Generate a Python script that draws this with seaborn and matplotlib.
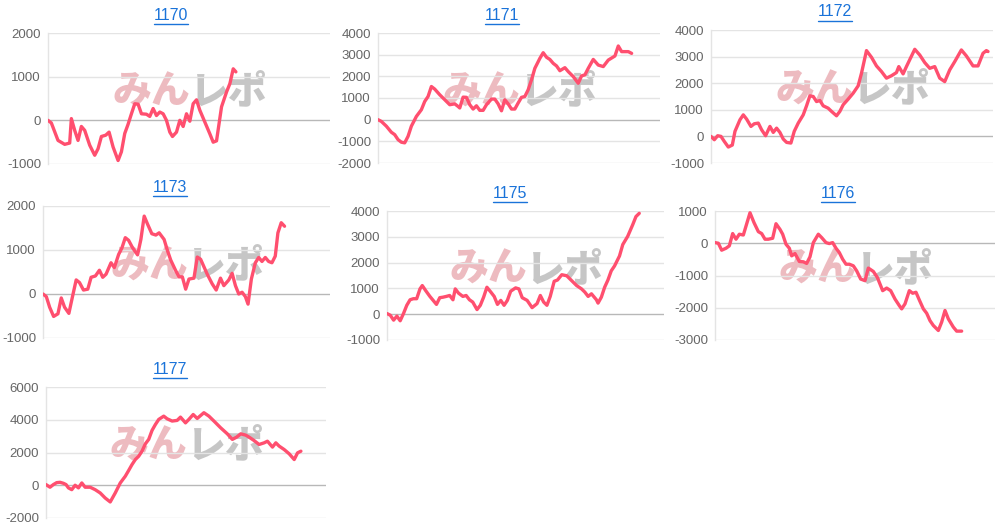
import matplotlib
matplotlib.use("Agg")
import matplotlib.pyplot as plt
from matplotlib.lines import Line2D
import seaborn as sns
import pandas as pd

# ---- data (x = progress of the day, y = difference in medals) ----
x_1170 = [0, 1, 3, 5, 6.5, 7, 8, 9, 10, 11,
          12.5, 14, 15, 16, 17.3, 18.3, 19.5, 21, 22, 23,
          24, 25, 26, 27, 28, 29.5, 30.5, 31.5, 32.5, 33.5,
          34.5, 35.5, 36.5, 37.3, 38.5, 39.5, 40.5, 41.5, 42.5, 43.5,
          44.5, 45.5, 47, 48.5, 49.5, 50.5, 52, 53.5, 54.5, 55.5,
          56.3]
y_1170 = [0, -60, -460, -550, -520, 40, -230, -460, -140, -230,
          -570, -800, -650, -370, -340, -270, -610, -920, -720, -300,
          -90, 150, 380, 370, 150, 140, 90, 270, 110, 190,
          150, 0, -270, -370, -270, 0, -140, 150, -20, 380,
          470, 230, -40, -310, -500, -470, 310, 650, 840, 1180,
          1110]

x_1171 = [0, 1, 2.5, 4, 5, 6, 7, 8, 9, 10,
          11.5, 13, 14, 15, 16, 17, 18.5, 20, 21.5, 23,
          24, 24.5, 25.5, 26.5, 27.5, 28.5, 29.5, 30.5, 31.5, 32.5,
          34, 35, 36, 37, 38, 39, 40, 41, 42, 43,
          44, 45, 46, 47, 48.5, 49.5, 50.5, 51.5, 52.5, 53.5,
          54.5, 56, 57, 58.5, 60, 61, 62, 63, 64.5, 66,
          67.5, 69, 71, 72, 73, 74, 75, 76]
y_1171 = [0, -80, -300, -580, -690, -920, -1040, -1070, -770, -300,
          150, 460, 840, 1070, 1530, 1410, 1150, 920, 690, 730,
          610, 540, 1040, 1030, 690, 490, 640, 430, 430, 690,
          950, 950, 730, 410, 920, 730, 490, 490, 770, 1030,
          1070, 1380, 1840, 2370, 2830, 3090, 2880, 2780, 2600, 2480,
          2260, 2400, 2220, 1990, 1680, 2020, 2070, 2370, 2780, 2520,
          2450, 2750, 2940, 3400, 3140, 3140, 3140, 3060]

x_1172 = [0, 1, 2, 3, 4, 5.2, 6.4, 7.2, 8.7, 9.7,
          10.7, 12, 13, 14.2, 15.2, 16.4, 17.7, 18.7, 19.7, 20.7,
          21.7, 22.7, 24, 25, 26.2, 27.7, 28.7, 29.7, 30.7, 31.7,
          32.7, 33.7, 35.2, 36.2, 37.7, 38.7, 39.7, 41.2, 42.7, 44.2,
          45.2, 46.7, 48.2, 49.7, 51.2, 52.7, 54.2, 55.7, 56.4, 57.7,
          58.7, 61.2, 62.7, 64.2, 65.7, 67.2, 68.7, 70.2, 71.7, 73.2,
          75.2, 76.7, 78.7, 80.2, 81.7, 82.7, 83.2]
y_1172 = [0, -125, 25, 0, -190, -400, -325, 190, 625, 810,
          650, 375, 475, 500, 250, 25, 375, 150, 310, 150,
          -100, -225, -250, 190, 500, 810, 1150, 1525, 1500, 1310,
          1350, 1150, 1060, 940, 775, 940, 1190, 1400, 1625, 1900,
          2375, 3225, 2975, 2650, 2440, 2190, 2280, 2400, 2625, 2350,
          2625, 3275, 3060, 2775, 2560, 2625, 2190, 2060, 2500, 2810,
          3250, 3025, 2650, 2650, 3125, 3225, 3190]

x_1173 = [0, 1, 2, 3.2, 4.5, 5.5, 6.5, 7.8, 8.8, 10,
          11, 12.2, 13.5, 14.5, 15.8, 17, 18, 19, 20.5, 21.5,
          22.8, 23.8, 24.8, 25.8, 27, 28.5, 29.5, 30.5, 31.5, 32.8,
          34, 35, 36.5, 37.5, 38.5, 40, 41, 42, 43, 44,
          45.5, 46.5, 47.5, 48.5, 49.5, 51, 52.2, 53.5, 54.5, 56,
          57, 58, 59, 60, 61, 61.8, 62.8, 64, 65, 66,
          67, 68, 69, 70, 70.8, 71.8, 72.8]
y_1173 = [0, -60, -300, -510, -450, -90, -300, -440, -90, 320,
          260, 90, 110, 380, 410, 540, 380, 450, 710, 600,
          900, 1050, 1280, 1220, 1050, 890, 1240, 1770, 1590, 1370,
          1340, 1390, 1240, 990, 770, 530, 390, 390, 110, 340,
          360, 840, 790, 620, 450, 230, 90, 360, 190, 320,
          470, 190, 0, 40, -60, -230, 340, 710, 830, 740,
          830, 740, 710, 860, 1390, 1620, 1540]

x_1175 = [0, 1, 2, 3, 4, 5, 6, 7, 8, 9,
          10, 10.7, 11.7, 13, 14, 15, 16, 17, 18, 19,
          20, 20.7, 21.7, 23, 24, 25, 26, 27.3, 28.3, 29.3,
          30.3, 31.5, 32.5, 33.5, 34.5, 35.5, 36.5, 37.5, 39, 40,
          41, 42.5, 44, 45.5, 46.5, 47.5, 48.5, 49.5, 50.7, 51.7,
          53, 54.5, 56, 57.5, 59, 60, 61, 62, 63.5, 64,
          65, 66, 67, 68, 69, 70.5, 71.5, 73, 74.5, 75.5,
          76.5]
y_1175 = [25, -40, -230, -75, -255, 25, 345, 560, 600, 600,
          980, 1110, 920, 690, 535, 380, 640, 660, 690, 725,
          560, 980, 815, 690, 725, 560, 470, 180, 345, 660,
          1045, 855, 690, 380, 535, 345, 535, 890, 1020, 980,
          640, 535, 255, 410, 725, 470, 345, 690, 1275, 1325,
          1530, 1490, 1300, 1110, 980, 855, 690, 790, 560, 430,
          660, 1045, 1325, 1680, 1870, 2255, 2700, 3020, 3465, 3785,
          3910]

x_1176 = [0, 1, 2, 3.3, 4.3, 5.3, 6.3, 7.3, 8.5, 10.5,
          11.7, 13, 14, 15, 16, 17.3, 18.3, 19.5, 20.3, 21.3,
          22.3, 23, 24, 25.3, 26.5, 27.5, 28.5, 29.5, 31, 32,
          33.3, 34.3, 35.3, 36.3, 37.3, 38.3, 39.3, 40.3, 41.5, 42.5,
          43.7, 45, 46, 47.5, 48.7, 50.3, 51.5, 52.7, 54, 55.3,
          56, 57, 58.3, 59.3, 60.3, 61.3, 62.5, 63.5, 64.5, 65.5,
          67, 68, 69, 70, 71.5, 72.5, 74]
y_1176 = [20, 0, -215, -155, -80, 300, 125, 280, 255, 945,
          640, 360, 300, 125, 125, 155, 605, 430, 280, -30,
          -155, -390, -320, -565, -575, -625, -420, 20, 280, 175,
          20, -10, 20, -155, -290, -495, -650, -650, -700, -855,
          -1110, -1160, -770, -875, -1060, -1470, -1390, -1470, -1730, -1935,
          -2035, -1880, -1470, -1550, -1520, -1760, -2035, -2170, -2400, -2550,
          -2705, -2445, -2085, -2345, -2600, -2725, -2725]

x_1177 = [0, 1.2, 2.2, 3.2, 4.2, 5.2, 6, 6.7, 7.7, 8.7,
          9.7, 10.7, 11.7, 13.2, 14.7, 16.2, 17.7, 19.2, 20.7, 22.2,
          23.7, 24.7, 25.7, 26.7, 27.7, 28.7, 29.7, 30.7, 31.7, 32.7,
          33.7, 35.2, 36.2, 37.7, 39.2, 40.2, 41.7, 42.7, 44, 45.2,
          47.2, 48.7, 50.2, 52.2, 54.2, 55.7, 57, 58.2, 59.7, 60.7,
          62.2, 63.7, 65.2, 66.2, 67.7, 68.7, 69.7, 71.2, 72.7, 74.2,
          75.2, 76.2]
y_1177 = [40, -120, 40, 160, 180, 120, 40, -160, -270, 0,
          -160, 140, -120, -120, -270, -470, -780, -1020, -470, 140,
          550, 900, 1260, 1570, 1770, 2080, 2530, 2800, 3350, 3710,
          4020, 4220, 4060, 3920, 3960, 4160, 3810, 4020, 4320, 4080,
          4430, 4220, 3920, 3510, 3140, 2800, 2940, 3140, 3060, 2940,
          2730, 2490, 2590, 2690, 2330, 2590, 2390, 2180, 1920, 1570,
          1980, 2080]

machines = ["1170", "1171", "1172", "1173", "1175", "1176", "1177"]
xs = [x_1170, x_1171, x_1172, x_1173, x_1175, x_1176, x_1177]
ys = [y_1170, y_1171, y_1172, y_1173, y_1175, y_1176, y_1177]
y_ticks = [
    [-1000, 0, 1000, 2000],
    [-2000, -1000, 0, 1000, 2000, 3000, 4000],
    [-1000, 0, 1000, 2000, 3000, 4000],
    [-1000, 0, 1000, 2000],
    [-1000, 0, 1000, 2000, 3000, 4000],
    [-3000, -2000, -1000, 0, 1000],
    [-2000, 0, 2000, 4000, 6000],
]
x_max = [84.5, 84.5, 84.7, 86.5, 84, 84, 83.7]

# ---- layout (pixels: left, top, right, bottom) and title centers ----
W, H = 1003, 528
boxes = [(48, 33, 330, 164), (378, 33, 660, 163), (711, 30, 993, 163),
         (43, 206, 330, 338), (387, 211, 664, 340), (715, 211, 995, 340),
         (46, 387, 326, 518)]
title_pos = [(171, 15), (502, 15), (835, 12),
             (170, 187), (510, 193), (838, 193),
             (170, 369)]

LINE = "#ff4f6f"
GRID = "#e4e4e4"
LINK = "#1a73d9"

sns.set_style("white")
plt.rcParams["font.family"] = ["Liberation Sans", "DejaVu Sans"]

fig = plt.figure(figsize=(W / 100, H / 100), dpi=100)

for i, name in enumerate(machines):
    l, t, r, b = boxes[i]
    ax = fig.add_axes([l / W, 1 - b / H, (r - l) / W, (b - t) / H])
    df = pd.DataFrame({"x": xs[i], "y": ys[i]})

    # faint watermark logo
    ax.text(0.505, 0.55, "みん", transform=ax.transAxes, ha="right", va="center",
            fontsize=28, fontweight="heavy", color="#e8a4ab", alpha=0.75,
            family=["Noto Sans CJK JP"], zorder=1)
    ax.text(0.5, 0.55, "レポ", transform=ax.transAxes, ha="left", va="center",
            fontsize=28, fontweight="heavy", color="#b4b4b4", alpha=0.75,
            family=["Noto Sans CJK JP"], zorder=1)

    sns.lineplot(data=df, x="x", y="y", ax=ax, color=LINE, linewidth=2.4,
                 estimator=None, sort=False, zorder=3)

    ax.set_xlim(0, x_max[i])
    ax.set_ylim(y_ticks[i][0], y_ticks[i][-1])
    ax.set_yticks(y_ticks[i])
    ax.set_yticklabels([str(v) for v in y_ticks[i]])
    ax.set_xticks([])
    ax.set_xlabel("")
    ax.set_ylabel("")
    for v in y_ticks[i]:
        ax.axhline(v, color="#b8b8b8" if v == 0 else GRID, linewidth=1, zorder=2)
    for s in ["top", "right", "bottom"]:
        ax.spines[s].set_visible(False)
    ax.spines["left"].set_color(GRID)
    ax.spines["left"].set_linewidth(1)
    ax.tick_params(axis="y", length=4, color=GRID, labelsize=9.5,
                   labelcolor="#666666", pad=1)

    tx, ty = title_pos[i]
    fig.text(tx / W, 1 - ty / H, name, ha="center", va="center",
             fontsize=11.5, color=LINK)

# underline the titles like links
fig.canvas.draw()
renderer = fig.canvas.get_renderer()
for txt in list(fig.texts):
    bb = txt.get_window_extent(renderer)
    y0 = (bb.y0 - 1) / H
    fig.add_artist(Line2D([bb.x0 / W, bb.x1 / W], [y0, y0],
                          color=LINK, linewidth=1))

fig.savefig("out.png", dpi=100)
